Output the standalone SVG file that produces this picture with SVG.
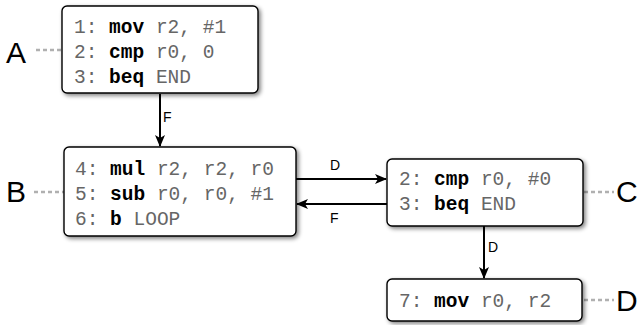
<svg xmlns="http://www.w3.org/2000/svg" width="642" height="325" viewBox="0 0 642 325">
<style>
.box{fill:#fff;stroke:#000;stroke-width:1.4;filter:url(#sh)}
.code{font-family:"Liberation Mono","Courier New",monospace;font-size:19.5px;fill:#666}
.kw{font-weight:bold;fill:#000}
.big{font-family:"Liberation Sans",Arial,sans-serif;font-size:30px;fill:#000}
.lbl{font-family:"Liberation Sans",Arial,sans-serif;font-size:14px;fill:#000}
.dash{stroke:#b0b0b0;stroke-width:2.5;stroke-dasharray:4,3;fill:none}
.edge{stroke:#000;stroke-width:2;fill:none;marker-end:url(#ah)}
</style>
<defs>
<filter id="sh" x="-10%" y="-10%" width="130%" height="140%">
<feGaussianBlur in="SourceAlpha" stdDeviation="2"/>
<feOffset dx="2" dy="2" result="b"/>
<feComponentTransfer><feFuncA type="linear" slope="0.5"/></feComponentTransfer>
<feMerge><feMergeNode/><feMergeNode in="SourceGraphic"/></feMerge>
</filter>
<marker id="ah" viewBox="0 0 12 10" refX="11" refY="5" markerWidth="12" markerHeight="10" markerUnits="userSpaceOnUse" orient="auto">
<path d="M0,0 L12,5 L0,10 L3,5 Z" fill="#000"/>
</marker>
</defs>
<g id="connectors">
<line class="edge" x1="160" y1="94" x2="160" y2="146"/>
<text class="lbl" x="163" y="122">F</text>
<line class="edge" x1="296" y1="179" x2="386" y2="179"/>
<text class="lbl" x="330" y="170">D</text>
<line class="edge" x1="387" y1="204" x2="297" y2="204"/>
<text class="lbl" x="330" y="223">F</text>
<line class="edge" x1="484" y1="226" x2="484" y2="278"/>
<text class="lbl" x="488" y="252">D</text>
<line class="dash" x1="36" y1="50" x2="62" y2="50"/>
<line class="dash" x1="34" y1="192" x2="64" y2="192"/>
<line class="dash" x1="584" y1="192" x2="614" y2="192"/>
<line class="dash" x1="584" y1="300" x2="614" y2="300"/>
</g>
<g id="A">
<rect class="box" x="62" y="6" width="196" height="87" rx="5"/>
<text class="code" x="74" y="33">1: <tspan class="kw">mov</tspan> r2, #1</text>
<text class="code" x="74" y="58">2: <tspan class="kw">cmp</tspan> r0, 0</text>
<text class="code" x="74" y="83">3: <tspan class="kw">beq</tspan> END</text>
<text class="big" x="6" y="63">A</text>
</g>
<g id="B">
<rect class="box" x="64" y="147" width="232" height="89" rx="5"/>
<text class="code" x="75" y="175">4: <tspan class="kw">mul</tspan> r2, r2, r0</text>
<text class="code" x="75" y="200">5: <tspan class="kw">sub</tspan> r0, r0, #1</text>
<text class="code" x="75" y="225">6: <tspan class="kw">b</tspan> LOOP</text>
<text class="big" x="6" y="202">B</text>
</g>
<g id="C">
<rect class="box" x="387" y="159" width="196" height="67" rx="5"/>
<text class="code" x="399" y="185">2: <tspan class="kw">cmp</tspan> r0, #0</text>
<text class="code" x="399" y="210">3: <tspan class="kw">beq</tspan> END</text>
<text class="big" x="616" y="202">C</text>
</g>
<g id="D">
<rect class="box" x="387" y="279" width="195" height="42" rx="5"/>
<text class="code" x="399" y="307">7: <tspan class="kw">mov</tspan> r0, r2</text>
<text class="big" x="616" y="311">D</text>
</g>
</svg>
